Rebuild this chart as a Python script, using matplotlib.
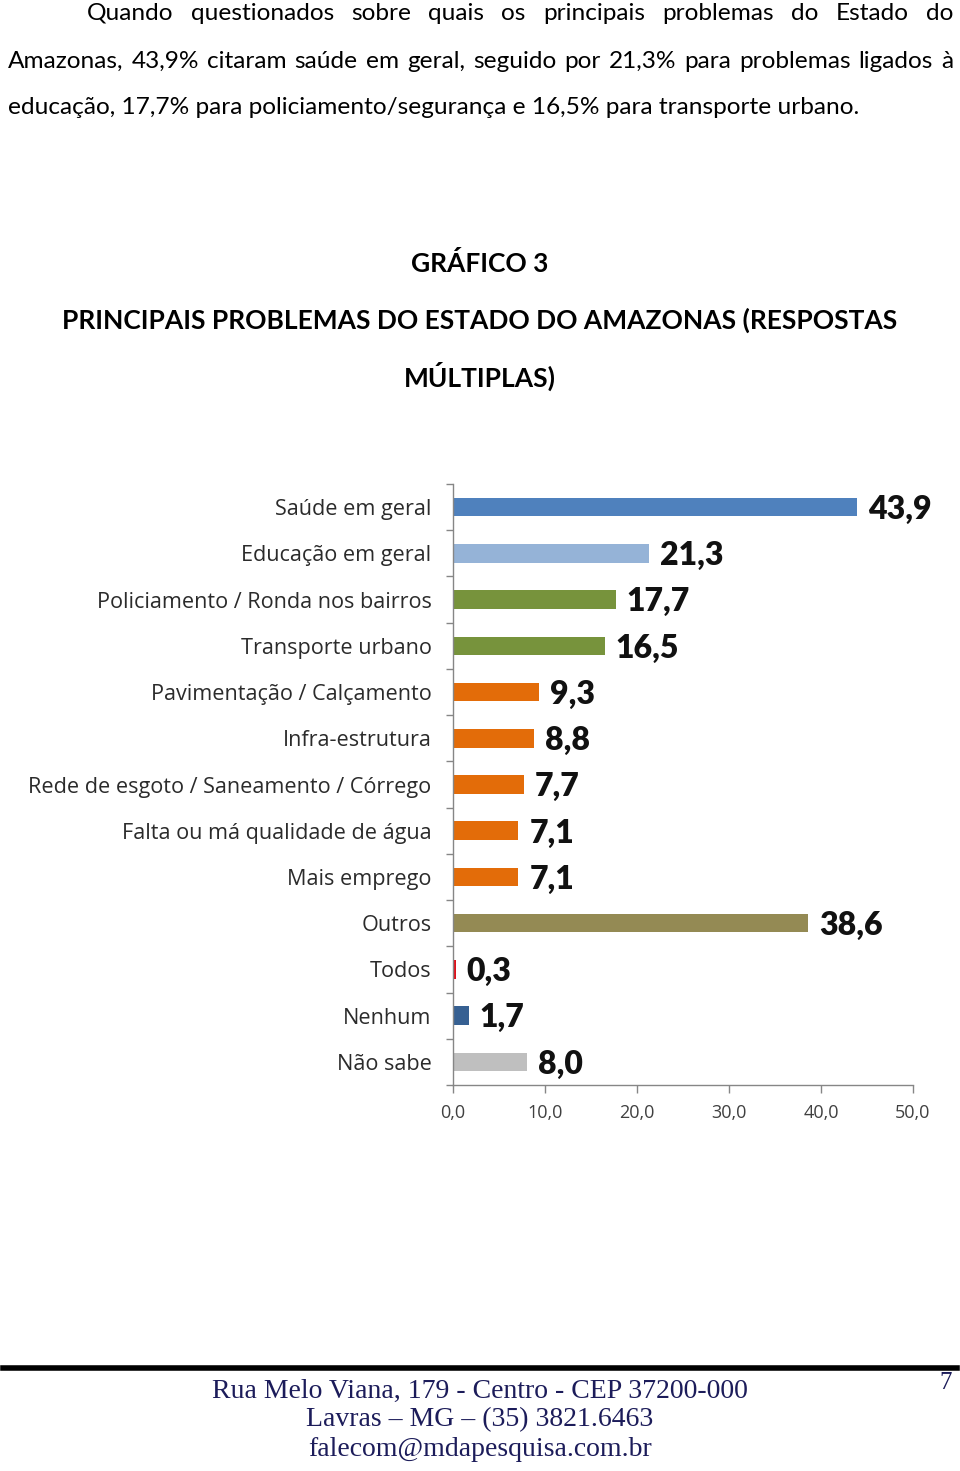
import matplotlib
matplotlib.use("Agg")
import matplotlib.pyplot as plt
from matplotlib.ticker import FixedLocator

categories = ["Saúde em geral", "Educação em geral", "Policiamento / Ronda nos bairros",
              "Transporte urbano", "Pavimentação / Calçamento", "Infra-estrutura",
              "Rede de esgoto / Saneamento / Córrego", "Falta ou má qualidade de água",
              "Mais emprego", "Outros", "Todos", "Nenhum", "Não sabe"]
values = [43.9, 21.3, 17.7, 16.5, 9.3, 8.8, 7.7, 7.1, 7.1, 38.6, 0.3, 1.7, 8.0]
colors = ["#4F81BD", "#95B3D7", "#77933C", "#77933C", "#E36C09", "#E36C09", "#E36C09",
          "#E36C09", "#E36C09", "#948A54", "#E0101A", "#366092", "#BFBFBF"]
xticks = [0, 10, 20, 30, 40, 50]

paragraph = [
    "Quando questionados sobre quais os principais problemas do Estado do",
    "Amazonas, 43,9% citaram saúde em geral, seguido por 21,3% para problemas ligados à",
    "educação, 17,7% para policiamento/segurança e 16,5% para transporte urbano.",
]
title_lines = ["GRÁFICO 3", "PRINCIPAIS PROBLEMAS DO ESTADO DO AMAZONAS (RESPOSTAS", "MÚLTIPLAS)"]
footer_lines = ["Rua Melo Viana, 179 - Centro - CEP 37200-000",
                "Lavras – MG – (35) 3821.6463",
                "falecom@mdapesquisa.com.br"]

W, H = 960, 1471
fig = plt.figure(figsize=(W / 100, H / 100), dpi=100)
fig.patch.set_facecolor("white")

def fy(py):
    return 1 - py / H

def fx(px):
    return px / W

# Paragraph (justified)
pfont = dict(family="Lato", fontsize=17.6, color="black")
renderer = fig.canvas.get_renderer()
line_specs = [(87, 953, True), (8, 953, True), (8, None, False)]
line_ys = [13, 61, 108]
for text, (x0, x1, just), y in zip(paragraph, line_specs, line_ys):
    if not just:
        fig.text(fx(x0), fy(y), text, ha="left", va="center", **pfont)
        continue
    words = text.split(" ")
    widths = []
    for w in words:
        t = fig.text(0, 0, w, **pfont)
        bb = t.get_window_extent(renderer=renderer)
        widths.append(bb.width)
        t.remove()
    gap = (x1 - x0 - sum(widths)) / (len(words) - 1)
    cx = x0
    for w, wd in zip(words, widths):
        fig.text(fx(cx), fy(y), w, ha="left", va="center", **pfont)
        cx += wd + gap

# Title
tfont = dict(family="Lato", fontsize=19, fontweight="bold", color="black", ha="center", va="center")
for t, y in zip(title_lines, [263, 320, 376]):
    fig.text(0.5, fy(y), t, **tfont)

# Chart axes
ax_left, ax_right = 453, 913
ax_top, ax_bot = 484, 1085
ax = fig.add_axes([fx(ax_left), fy(ax_bot), fx(ax_right - ax_left), (ax_bot - ax_top) / H])
n = len(categories)
ypos = list(range(n))
ax.barh(ypos, values, color=colors, height=0.4)
ax.set_ylim(n - 0.5, -0.5)
ax.set_xlim(0, 50)
ax.xaxis.set_major_locator(FixedLocator(xticks))
ax.set_xticklabels([f"{v:.1f}".replace(".", ",") for v in xticks])
ax.set_yticks(ypos)
ax.set_yticklabels(categories)
ax.yaxis.set_minor_locator(FixedLocator([i - 0.5 for i in range(n + 1)]))
ax.tick_params(axis="y", which="major", length=0, pad=15.5, labelsize=15.6, labelcolor="#2B2B2B")
ax.tick_params(axis="y", which="minor", length=5, color="#868686", width=1)
ax.tick_params(axis="x", which="major", length=6, color="#868686", width=1,
               labelsize=13, labelcolor="#404040", pad=8)
for lab in ax.get_yticklabels() + ax.get_xticklabels():
    lab.set_fontfamily("Open Sans")
for s in ["top", "right"]:
    ax.spines[s].set_visible(False)
for s in ["left", "bottom"]:
    ax.spines[s].set_color("#868686")
    ax.spines[s].set_linewidth(1)
for i, v in enumerate(values):
    ax.text(v + 1.2, i + 0.05, f"{v:.1f}".replace(".", ","), ha="left", va="center",
            fontsize=23, fontweight="heavy", family="Lato", color="#111111")

# Footer
fig.add_artist(plt.Line2D([fx(3), fx(957)], [fy(1368), fy(1368)], color="black", lw=4))
ffont = dict(family="Liberation Serif", fontsize=20, color="#1C1C5A", ha="center", va="center")
for t, y in zip(footer_lines, [1391, 1420, 1450]):
    fig.text(fx(480), fy(y), t, **ffont)
fig.text(fx(946), fy(1383), "7", family="Liberation Serif", fontsize=18, color="#1C1C5A",
         ha="center", va="center")

fig.savefig("out.png", dpi=100, facecolor="white")
